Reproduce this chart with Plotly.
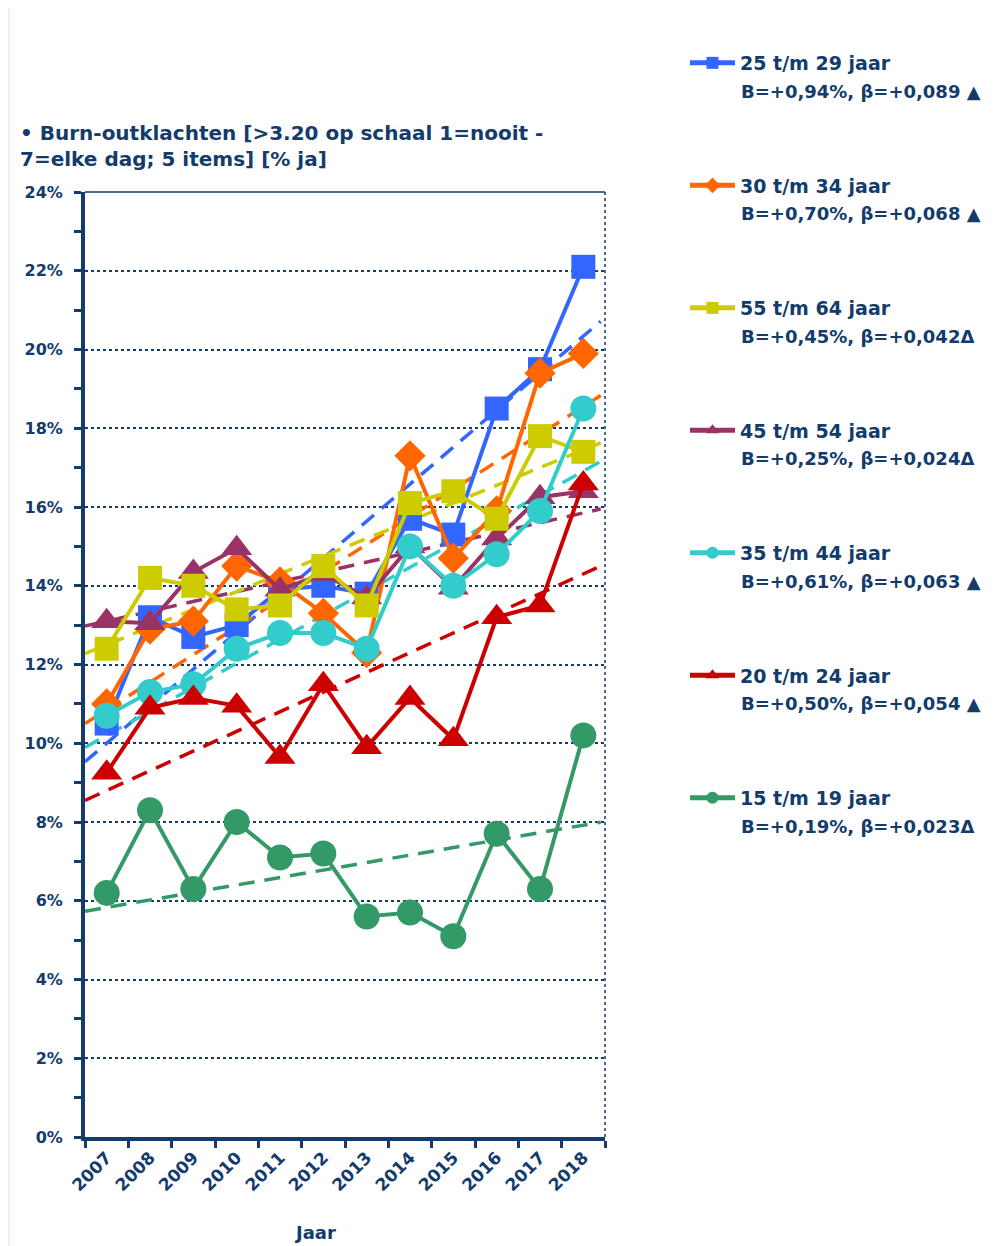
import plotly.graph_objects as go

# ---------------- data ----------------
years = [2007, 2008, 2009, 2010, 2011, 2012, 2013, 2014, 2015, 2016, 2017, 2018]

labels = ["25 t/m 29 jaar", "30 t/m 34 jaar", "55 t/m 64 jaar", "45 t/m 54 jaar",
          "35 t/m 44 jaar", "20 t/m 24 jaar", "15 t/m 19 jaar"]
stats = ["B=+0,94%, β=+0,089 ▲", "B=+0,70%, β=+0,068 ▲", "B=+0,45%, β=+0,042Δ",
         "B=+0,25%, β=+0,024Δ", "B=+0,61%, β=+0,063 ▲", "B=+0,50%, β=+0,054 ▲",
         "B=+0,19%, β=+0,023Δ"]

v_25_29 = [10.5, 13.2, 12.7, 13.0, 13.9, 14.0, 13.8, 15.7, 15.3, 18.5, 19.5, 22.1]
v_30_34 = [11.0, 12.9, 13.1, 14.5, 14.1, 13.3, 12.3, 17.3, 14.7, 15.9, 19.4, 19.9]
v_55_64 = [12.4, 14.2, 14.0, 13.4, 13.5, 14.5, 13.5, 16.1, 16.4, 15.7, 17.8, 17.4]
v_45_54 = [13.1, 13.05, 14.35, 14.95, 13.9, 14.3, 13.7, 15.0, 13.95, 15.2, 16.25, 16.4]
v_35_44 = [10.7, 11.3, 11.5, 12.4, 12.8, 12.8, 12.4, 15.0, 14.0, 14.8, 15.9, 18.5]
v_20_24 = [9.25, 10.9, 11.15, 10.95, 9.65, 11.5, 9.9, 11.15, 10.1, 13.2, 13.5, 16.6]
v_15_19 = [6.2, 8.3, 6.3, 8.0, 7.1, 7.2, 5.6, 5.7, 5.1, 7.7, 6.3, 10.2]

# trend lines: value at 2007 and slope B (% per year, from legend)
trend_2007 = [10.0, 10.85, 12.5, 13.1, 10.2, 8.8, 5.83]
trend_B = [0.94, 0.70, 0.45, 0.25, 0.61, 0.50, 0.19]

series = [v_25_29, v_30_34, v_55_64, v_45_54, v_35_44, v_20_24, v_15_19]
colors = ["#3366FF", "#FF6600", "#CCCC00", "#993366", "#33CCCC", "#CC0000", "#339966"]
symbols = ["square", "diamond", "square", "triangle-up", "circle", "triangle-up", "circle"]
sizes = [24, 24, 24, 27, 26, 27, 26]
draw_order = [0, 1, 3, 2, 4, 5, 6]

NAVY = "#133B6B"
FONT = "DejaVu Sans"

# plot area in figure pixels (page adds an 8px body margin)
W, H = 995, 1238
L, T = 77, 184
PW, PH = 520, 945


def px_x(x):  # figure-pixel x -> paper
    return (x - L) / PW


def px_y(y):  # figure-pixel y -> paper
    return (T + PH - y) / PH


fig = go.Figure()

# trend lines (dashed)
x0, x1 = years[0] - 0.5, years[-1] + 0.4
for i in draw_order:
    tx = [x0, x1]
    ty = [trend_2007[i] + trend_B[i] * (x - years[0]) for x in tx]
    fig.add_trace(go.Scatter(
        x=tx, y=ty, mode="lines",
        line=dict(color=colors[i], width=3.5, dash="16px,10px"),
        showlegend=False, hoverinfo="skip"))

# data series, each with its own legend box
legend_names = ["legend"] + [f"legend{k}" for k in range(2, 8)]
for i in draw_order:
    fig.add_trace(go.Scatter(
        x=years, y=series[i], mode="lines+markers",
        name=labels[i],
        line=dict(color=colors[i], width=4),
        marker=dict(symbol=symbols[i], size=sizes[i], color=colors[i]),
        legend=legend_names[i]))

fig.update_layout(
    width=W, height=H,
    margin=dict(l=L, r=W - L - PW, t=T, b=H - T - PH),
    paper_bgcolor="white", plot_bgcolor="white",
    font=dict(family=FONT, color=NAVY),
    showlegend=True,
)

entry_gap = 122.5
first_line_y = 55      # figure px (centre of first legend line)
text_x = 732           # figure px where legend text starts
for i in range(len(labels)):
    yc = first_line_y + i * entry_gap
    fig.update_layout({legend_names[i]: dict(
        x=px_x(text_x - 55), y=px_y(yc), xanchor="left", yanchor="middle",
        font=dict(family=FONT, size=19, color=NAVY, weight="bold"),
        itemwidth=45, bgcolor="rgba(0,0,0,0)", itemsizing="constant",
        borderwidth=0,
    )})
    fig.add_annotation(
        text=stats[i], xref="paper", yref="paper",
        x=px_x(text_x - 1), y=px_y(yc + 28), xanchor="left", yanchor="middle",
        showarrow=False, font=dict(family=FONT, size=18, color=NAVY, weight="bold"))

fig.update_xaxes(
    range=[years[0] - 0.5, years[-1] + 0.5],
    tickvals=years, ticktext=[str(y) for y in years],
    tickangle=-45,
    tickfont=dict(family=FONT, size=17, color=NAVY, weight="bold"),
    ticks="", showgrid=False, zeroline=False,
    showline=True, linecolor=NAVY, linewidth=4,
    minor=dict(tickvals=[y - 0.5 for y in years] + [years[-1] + 0.5],
               ticks="outside", ticklen=7, tickwidth=3, tickcolor=NAVY, showgrid=False),
)

fig.update_yaxes(
    range=[0, 24], dtick=2, ticksuffix="%",
    tickfont=dict(family=FONT, size=16, color=NAVY, weight="bold"),
    ticks="outside", ticklen=7, tickwidth=3, tickcolor=NAVY,
    ticklabelstandoff=8,
    showgrid=True, gridcolor=NAVY, gridwidth=1.5, griddash="dot",
    zeroline=False,
    showline=True, linecolor=NAVY, linewidth=4,
    minor=dict(dtick=1, ticks="outside", ticklen=7, tickwidth=3, tickcolor=NAVY, showgrid=False),
)

# frame: solid top line, dotted right line, light outer border on the left
fig.add_shape(type="line", xref="paper", yref="paper", x0=0, x1=1, y0=1, y1=1,
              line=dict(color=NAVY, width=1.5))
fig.add_shape(type="line", xref="paper", yref="paper", x0=1, x1=1, y0=0, y1=1,
              line=dict(color=NAVY, width=1.5, dash="dot"))
fig.add_shape(type="line", xref="paper", yref="paper", x0=px_x(1), x1=px_x(1),
              y0=px_y(H), y1=px_y(0), line=dict(color="#DDDDDD", width=1))

# title and axis title
fig.add_annotation(
    text="• Burn-outklachten [>3.20 op schaal 1=nooit -<br>7=elke dag; 5 items] [% ja]",
    xref="paper", yref="paper", x=px_x(10), y=px_y(111), xanchor="left", yanchor="top",
    align="left", showarrow=False,
    font=dict(family=FONT, size=20, color=NAVY, weight="bold"))
fig.add_annotation(
    text="Jaar", xref="paper", yref="paper", x=px_x(307), y=px_y(1224),
    xanchor="center", yanchor="middle", showarrow=False,
    font=dict(family=FONT, size=18, color=NAVY, weight="bold"))

fig.write_html("out.html")
